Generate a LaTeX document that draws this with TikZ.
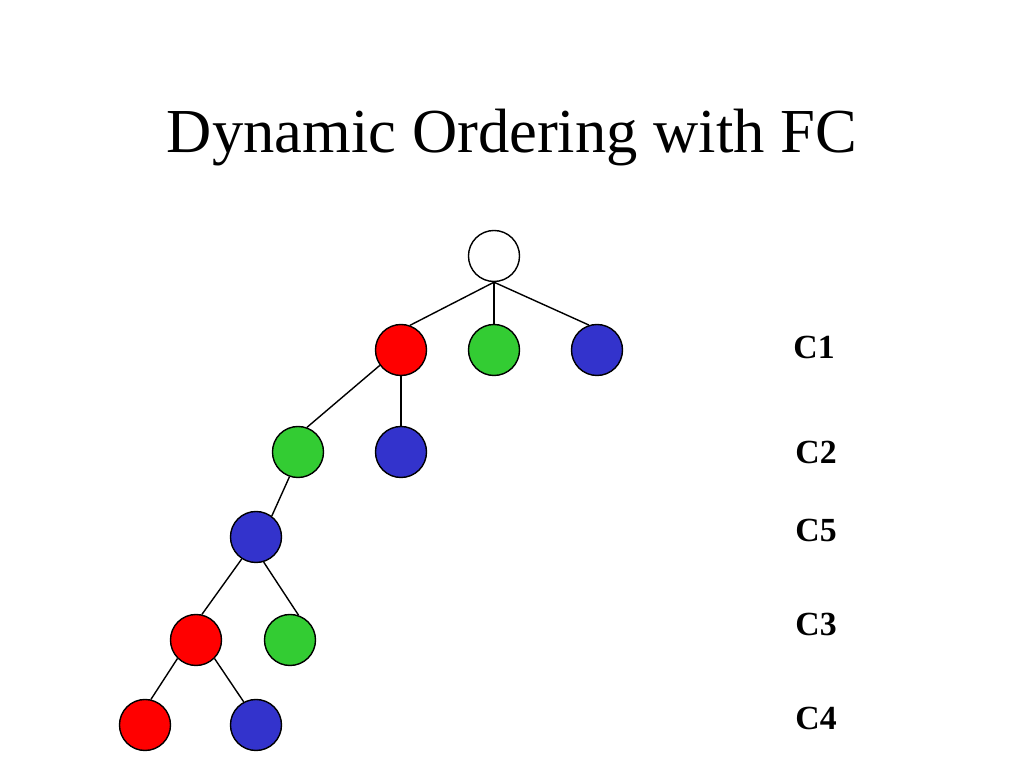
\documentclass[tikz,border=0pt]{standalone}
\usepackage{fontspec}
\setmainfont{Liberation Serif}
\definecolor{vred}{RGB}{255,0,0}
\definecolor{vgreen}{RGB}{51,204,51}
\definecolor{vblue}{RGB}{51,51,204}
\begin{document}
\begin{tikzpicture}[x=0.01cm,y=-0.01cm,
    val/.style={circle,draw=black,line width=0.4pt,minimum size=0.51cm,inner sep=0pt},
    lvl/.style={font=\fontsize{9.6}{12}\selectfont\bfseries,anchor=base},
    edge/.style={black,line width=0.4pt}]
    \useasboundingbox[fill=white] (0,0) rectangle (1024,768);

    \node[anchor=base,font=\fontsize{17.8}{21}\selectfont] (title) at (512,153) {Dynamic Ordering with FC};

    \node[val,fill=white] (root) at (494,256) {};

    \node[val,fill=vred] (r1) at (401,350) {};
    \node[val,fill=vgreen] (g1) at (494,350) {};
    \node[val,fill=vblue] (b1) at (597,350) {};

    \node[val,fill=vgreen] (g2) at (298,452) {};
    \node[val,fill=vblue] (b2) at (401,452) {};

    \node[val,fill=vblue] (b5) at (256,537) {};

    \node[val,fill=vred] (r3) at (196,640) {};
    \node[val,fill=vgreen] (g3) at (290,640) {};

    \node[val,fill=vred] (r4) at (145,725) {};
    \node[val,fill=vblue] (b4) at (256,725) {};

    \draw[edge] (root.south) -- (r1.70);
    \draw[edge] (root.south) -- (g1.north);
    \draw[edge] (root.south) -- (b1.108);

    \draw[edge] (r1.-144) -- (g2.70);
    \draw[edge] (r1.south) -- (b2.north);

    \draw[edge] (g2.-109) -- (b5.53);

    \draw[edge] (b5.-123) -- (r3.77);
    \draw[edge] (b5.-73) -- (g3.71);

    \draw[edge] (r3.-135) -- (r4.77);
    \draw[edge] (r3.-45) -- (b4.118);

    \node[lvl] (c1) at (814,359) {C1};
    \node[lvl] (c2) at (816,464) {C2};
    \node[lvl] (c5) at (816,542) {C5};
    \node[lvl] (c3) at (816,636) {C3};
    \node[lvl] (c4) at (816,730) {C4};
\end{tikzpicture}
\end{document}
